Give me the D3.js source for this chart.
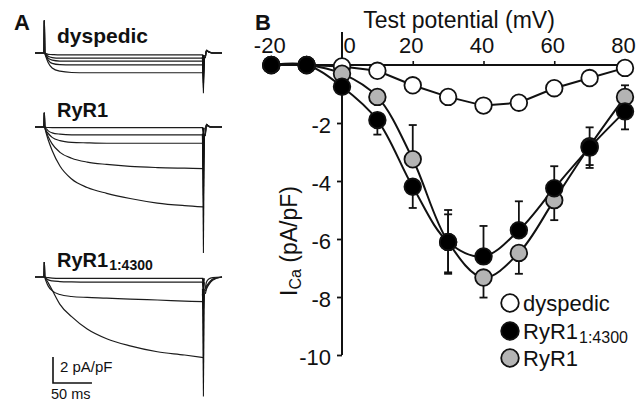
<!DOCTYPE html>
<html>
<head>
<meta charset="utf-8">
<script src="https://cdn.jsdelivr.net/npm/d3@7"></script>
<style>
  html, body { margin: 0; padding: 0; background: #fff; }
  svg { display: block; font-family: "Liberation Sans", Arial, sans-serif; }
</style>
</head>
<body>
<svg id="chart" width="644" height="405"></svg>
<script>
// ---------------- Panel B data ----------------
const potentials   = [-20, -10, 0, 10, 20, 30, 40, 50, 60, 70, 80];
const dyspedicI    = [0, 0, -0.05, -0.2, -0.7, -1.1, -1.4, -1.3, -0.8, -0.45, -0.1];
const ryr14300I    = [0, 0, -0.75, -1.9, -4.2, -6.1, -6.6, -5.7, -4.25, -2.85, -1.6];
const ryr14300Up   = [0, 0, 0, 0, 0, 1.1, 1.05, 1.0, 0.76, 0.7, 0];
const ryr14300Down = [0, 0, 0, 0.5, 0.73, 1.05, 0, 0, 0, 0.6, 0.62];
const ryr1I        = [0, 0, -0.3, -1.1, -3.25, -6.1, -7.33, -6.48, -4.66, -2.8, -1.1];
const ryr1Up       = [0, 0, 0, 0, 1.18, 0.95, 0, 0, 0, 0, 0.4];
const ryr1Down     = [0, 0, 0, 0, 0, 1.1, 0.69, 0.72, 0.69, 0.75, 0];
const xTicks = [-20, 0, 20, 40, 60, 80];
const yTicks = [-2, -4, -6, -8, -10];
const legendLabels = ["dyspedic", "RyR1", "RyR1"];
const legendSubs   = ["", "1:4300", ""];

// ---------------- Panel A data (pA/pF) ----------------
const tGrid = [0.5, 2, 5, 10, 20, 35, 55, 80, 110, 145, 180, 204];
const tailT = [205, 206.6, 208, 211, 216, 228];
const dysTraces = [
  [0, -0.05, -0.1, -0.12, -0.15, -0.15, -0.15, -0.15, -0.15, -0.15, -0.15, -0.15],
  [0, -0.1, -0.25, -0.35, -0.4, -0.4, -0.4, -0.4, -0.4, -0.4, -0.4, -0.4],
  [0, -0.15, -0.4, -0.55, -0.62, -0.63, -0.63, -0.63, -0.63, -0.63, -0.63, -0.63],
  [0, -0.2, -0.55, -0.8, -0.9, -0.92, -0.92, -0.92, -0.92, -0.92, -0.92, -0.92],
  [0, -0.3, -0.75, -1.15, -1.4, -1.5, -1.52, -1.52, -1.52, -1.52, -1.52, -1.52]
];
const dysTails = [
  [-1.2, -0.3, 0.15, 0.08, 0, 0],
  [-1.8, -0.3, 0.15, 0.08, 0, 0],
  [-2.3, -0.3, 0.18, 0.08, 0, 0],
  [-2.7, -0.35, 0.2, 0.1, 0, 0],
  [-3.1, -0.4, 0.22, 0.1, 0, 0]
];
const ryrTraces = [
  [0, -0.02, -0.04, -0.05, -0.05, -0.05, -0.05, -0.05, -0.05, -0.05, -0.05, -0.05],
  [0, -0.1, -0.3, -0.45, -0.55, -0.6, -0.6, -0.6, -0.6, -0.6, -0.6, -0.6],
  [0, -0.25, -0.5, -0.8, -1.05, -1.18, -1.22, -1.25, -1.25, -1.25, -1.25, -1.25],
  [0, -0.3, -0.75, -1.3, -1.95, -2.4, -2.7, -2.88, -3.03, -3.12, -3.17, -3.2],
  [0, -0.4, -1.0, -1.8, -3.0, -4.0, -4.65, -5.1, -5.5, -5.85, -6.05, -6.15]
];
const ryrTails = [
  [-0.8, -0.4, 0.15, 0.05, 0, 0],
  [-1.6, -0.5, 0.15, 0.05, 0, 0],
  [-3.0, -0.6, 0.2, 0.05, 0, 0],
  [-5.5, -0.6, 0.2, 0.05, 0, 0],
  [-9.7, -0.7, 0.2, 0.05, 0, 0]
];
const mixTraces = [
  [0, -0.02, -0.05, -0.08, -0.1, -0.1, -0.1, -0.1, -0.1, -0.1, -0.1, -0.1],
  [0, -0.1, -0.22, -0.3, -0.35, -0.38, -0.4, -0.4, -0.4, -0.4, -0.4, -0.4],
  [0, -0.3, -0.7, -1.05, -1.35, -1.5, -1.57, -1.62, -1.7, -1.77, -1.85, -1.9],
  [0, -0.15, -0.45, -1.0, -2.1, -3.05, -4.0, -4.75, -5.3, -5.75, -6.0, -6.2]
];
const mixTails = [
  [-1.0, -0.9, -0.7, -0.45, -0.15, 0],
  [-1.3, -1.1, -0.85, -0.55, -0.2, 0],
  [-2.6, -1.3, -0.95, -0.6, -0.25, 0],
  [-9.2, -0.9, -0.4, -0.15, -0.05, 0]
];
const capPeaks = [2.5, 1.1, 1.15];
const panelLabels = ["dyspedic", "RyR1", "RyR1"];

// ---------------- Drawing ----------------
const svg = d3.select("#chart");
const ink = "#111";
const traceInk = "#1c1c1c";

// ===== Panel A =====
const tx = d3.scaleLinear().domain([-12, 228]).range([35, 222]);
const panels = [
  { base: 53,  traces: dysTraces, tails: dysTails, cap: capPeaks[0] },
  { base: 127, traces: ryrTraces, tails: ryrTails, cap: capPeaks[1] },
  { base: 277, traces: mixTraces, tails: mixTails, cap: capPeaks[2] }
];
const smoothTrace = d3.line().x(d => tx(d[0])).y(d => d[1]).curve(d3.curveMonotoneX);
const linearTrace = d3.line().x(d => tx(d[0])).y(d => d[1]);

const spikeLayer = [];
panels.forEach(p => {
  const ty = d3.scaleLinear().domain([0, -1]).range([p.base, p.base + 13]);
  const g = svg.append("g");
  p.traces.forEach((tr, i) => {
    const pre = [[-12, 0], [-0.4, 0], [0, p.cap], [0.5, tr[0]]].map(d => [d[0], ty(d[1])]);
    const mid = tGrid.map((t, k) => [t, ty(tr[k])]);
    const ret = tailT.slice(1).map((t, k) => [t, ty(p.tails[i][k + 1])]);
    [[linearTrace, pre], [smoothTrace, mid], [smoothTrace, ret]].forEach(([gen, pts]) => {
      g.append("path")
        .attr("d", gen(pts))
        .attr("fill", "none")
        .attr("stroke", traceInk)
        .attr("stroke-width", 1.2);
    });
    const lastLevel = tr[tr.length - 1];
    spikeLayer.push({
      x0: tx(204),
      top: Math.min(ty(lastLevel), ty(p.tails[i][1])),
      peak: ty(p.tails[i][0])
    });
  });
});

// tail current spikes at repolarization: tapered filled slivers, on top of traces
svg.append("g").selectAll("polygon").data(spikeLayer).join("polygon")
  .attr("points", d => [
    [d.x0 - 1.4, d.top], [d.x0 + 1.6, d.top],
    [d.x0 + 0.6, d.peak], [d.x0 - 0.4, d.peak]
  ].map(q => q.join(",")).join(" "))
  .attr("fill", "#111");

// panel A labels
svg.append("text").attr("x", 14).attr("y", 30).attr("font-size", 22)
  .attr("font-weight", "bold").attr("fill", ink).text("A");
svg.append("text").attr("x", 57).attr("y", 43).attr("font-size", 21)
  .attr("font-weight", "bold").attr("fill", ink).text(panelLabels[0]);
svg.append("text").attr("x", 57).attr("y", 117).attr("font-size", 20)
  .attr("font-weight", "bold").attr("fill", ink).text(panelLabels[1]);
const l3 = svg.append("text").attr("x", 57).attr("y", 267).attr("font-size", 20)
  .attr("font-weight", "bold").attr("fill", ink);
l3.append("tspan").text(panelLabels[2]);
l3.append("tspan").attr("font-size", 14).attr("dy", 3).attr("dx", 1).text("1:4300");

// scale bar: 2 pA/pF (13 px per pA/pF) and 50 ms
const sbY = d3.scaleLinear().domain([0, 2]).range([383, 357]);
const sbX0 = 53;
svg.append("path")
  .attr("d", `M${sbX0},${sbY(2)}V${sbY(0)}H${sbX0 + (tx(50) - tx(0))}`)
  .attr("fill", "none").attr("stroke", ink).attr("stroke-width", 1.6);
svg.append("text").attr("x", 60).attr("y", 372).attr("font-size", 15).attr("fill", ink).text("2 pA/pF");
svg.append("text").attr("x", 51).attr("y", 399).attr("font-size", 14.5).attr("fill", ink).text("50 ms");

// ===== Panel B =====
const x = d3.scaleLinear().domain([0, 80]).range([342, 625]);
const y = d3.scaleLinear().domain([0, -10]).range([65, 355]);

svg.append("text").attr("x", 255).attr("y", 30).attr("font-size", 22)
  .attr("font-weight", "bold").attr("fill", ink).text("B");
svg.append("text").attr("x", 459).attr("y", 28).attr("font-size", 23)
  .attr("text-anchor", "middle").attr("fill", ink).text("Test potential (mV)");

// x axis (top)
const xAxisG = svg.append("g").attr("transform", `translate(0,${y(0)})`)
  .call(d3.axisTop(x).tickValues(xTicks).tickSize(4).tickPadding(8).tickFormat(d3.format("d")));
xAxisG.select(".domain").remove();
xAxisG.selectAll(".tick line").attr("stroke", ink).attr("stroke-width", 1.6);
xAxisG.selectAll(".tick text").attr("font-size", 22).attr("fill", ink)
  .attr("font-family", "Liberation Sans, Arial, sans-serif")
  .attr("dx", d => d === 0 ? 7 : -2)
  .text(d => d < 0 ? "-" + Math.abs(d) : d);
svg.append("line")
  .attr("x1", x(-21.5)).attr("x2", x(81.5)).attr("y1", y(0)).attr("y2", y(0))
  .attr("stroke", ink).attr("stroke-width", 2);

// y axis (left)
const yAxisG = svg.append("g").attr("transform", `translate(${x(0)},0)`)
  .call(d3.axisLeft(y).tickValues(yTicks).tickSize(5).tickPadding(6));
yAxisG.select(".domain").remove();
yAxisG.selectAll(".tick line").attr("stroke", ink).attr("stroke-width", 1.8);
yAxisG.selectAll(".tick text").attr("font-size", 22).attr("fill", ink)
  .attr("font-family", "Liberation Sans, Arial, sans-serif")
  .attr("dy", "0.45em")
  .text(d => "-" + Math.abs(d));
svg.append("line")
  .attr("x1", x(0)).attr("x2", x(0)).attr("y1", 32).attr("y2", y(-10))
  .attr("stroke", ink).attr("stroke-width", 2);

// y axis label
const yl = svg.append("text")
  .attr("transform", `translate(297,${241}) rotate(-90)`)
  .attr("text-anchor", "middle").attr("font-size", 23).attr("fill", ink);
yl.append("tspan").text("I");
yl.append("tspan").attr("font-size", 16).attr("dy", 4).text("Ca");
yl.append("tspan").attr("dy", -4).text(" (pA/pF)");

// data series
const dysData = potentials.map((v, i) => ({ v, I: dyspedicI[i] }));
const blkData = potentials.map((v, i) => ({ v, I: ryr14300I[i], up: ryr14300Up[i], dn: ryr14300Down[i] }));
const gryData = potentials.map((v, i) => ({ v, I: ryr1I[i], up: ryr1Up[i], dn: ryr1Down[i] }));

const straight = d3.line().x(d => x(d.v)).y(d => y(d.I));
const smooth = d3.line().x(d => x(d.v)).y(d => y(d.I)).curve(d3.curveCatmullRom.alpha(0.5));

svg.append("path").attr("d", straight(dysData)).attr("fill", "none")
  .attr("stroke", ink).attr("stroke-width", 2);
svg.append("path").attr("d", smooth(gryData)).attr("fill", "none")
  .attr("stroke", ink).attr("stroke-width", 2);
svg.append("path").attr("d", smooth(blkData)).attr("fill", "none")
  .attr("stroke", ink).attr("stroke-width", 2);

function errorBars(data) {
  const g = svg.append("g").attr("stroke", ink).attr("stroke-width", 1.8).attr("fill", "none");
  data.forEach(d => {
    [[d.up, 1], [d.dn, -1]].forEach(([e, s]) => {
      if (!e) return;
      const yEnd = y(d.I + s * e);
      g.append("line").attr("x1", x(d.v)).attr("x2", x(d.v)).attr("y1", y(d.I)).attr("y2", yEnd);
      g.append("line").attr("x1", x(d.v) - 4).attr("x2", x(d.v) + 4).attr("y1", yEnd).attr("y2", yEnd);
    });
  });
}
errorBars(gryData);
errorBars(blkData);

const R = 8.3;
function dots(data, fill) {
  svg.append("g").selectAll("circle").data(data).join("circle")
    .attr("cx", d => x(d.v)).attr("cy", d => y(d.I)).attr("r", R)
    .attr("fill", fill).attr("stroke", ink).attr("stroke-width", 1.8);
}
dots(dysData, "#fff");
dots(gryData, "#b4b4b4");
dots(blkData, "#000");

// legend
const legFills = ["#fff", "#000", "#b4b4b4"];
const legY = [303, 331, 358];
legendLabels.forEach((lab, i) => {
  svg.append("circle").attr("cx", 510).attr("cy", legY[i]).attr("r", 8.8)
    .attr("fill", legFills[i]).attr("stroke", ink).attr("stroke-width", 1.8);
  const t = svg.append("text").attr("x", 523).attr("y", legY[i] + 8)
    .attr("font-size", 22).attr("fill", ink);
  t.append("tspan").text(lab);
  if (legendSubs[i]) t.append("tspan").attr("font-size", 16).attr("dy", 4).attr("dx", 1).text(legendSubs[i]);
});
</script>
</body>
</html>
